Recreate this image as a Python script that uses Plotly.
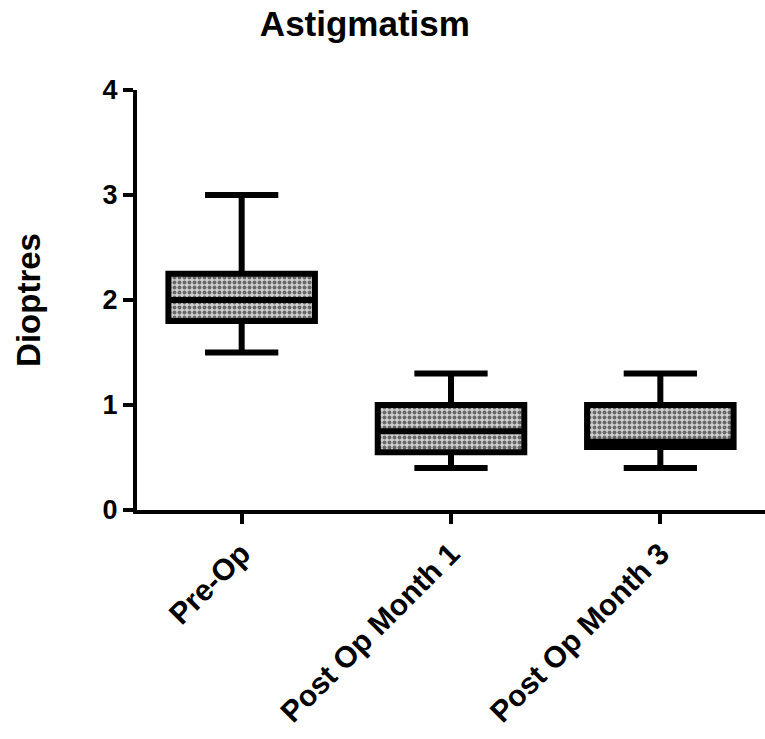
import plotly.graph_objects as go

categories = ["Pre-Op", "Post Op Month 1", "Post Op Month 3"]
lower_whisker = [1.5, 0.4, 0.4]
q1_vals = [1.8, 0.55, 0.6]
median_vals = [2.0, 0.75, 0.65]
q3_vals = [2.25, 1.0, 1.0]
upper_whisker = [3.0, 1.3, 1.3]
y_ticks = [0, 1, 2, 3, 4]

FONT = "Arial, Liberation Sans, sans-serif"

fig = go.Figure()
# checkered fill underneath the box outline
fig.add_trace(go.Bar(
    x=categories,
    y=[q3 - q1 for q1, q3 in zip(q1_vals, q3_vals)],
    base=q1_vals,
    width=0.7,
    marker=dict(color="#d0d0d0", line=dict(width=0),
                pattern=dict(shape=".", fgcolor="black", bgcolor="#d0d0d0",
                             size=5, solidity=0.5, fillmode="overlay")),
    hoverinfo="skip",
    showlegend=False,
))
fig.add_trace(go.Box(
    x=categories,
    lowerfence=lower_whisker,
    q1=q1_vals,
    median=median_vals,
    q3=q3_vals,
    upperfence=upper_whisker,
    fillcolor="rgba(0,0,0,0)",
    line=dict(color="black", width=6),
    whiskerwidth=0.5,
    width=0.7,
    showlegend=False,
))

fig.update_layout(
    width=765, height=739,
    margin=dict(l=137, r=0, t=90, b=229),
    paper_bgcolor="white", plot_bgcolor="white",
    font=dict(family=FONT, color="black"),
    title=dict(text="<b>Astigmatism</b>", x=0.477, xanchor="center", y=0.968, yanchor="middle",
               pad=dict(t=0, b=0, l=0, r=0),
               font=dict(size=35, family=FONT, color="black")),
    barmode="overlay",
    boxmode="overlay",
)
fig.update_xaxes(
    range=[-0.5, 2.5], automargin=False,
    showline=True, linecolor="black", linewidth=4,
    ticks="outside", ticklen=10, tickwidth=4, tickcolor="black",
    tickangle=-45, showgrid=False, zeroline=False,
    tickfont=dict(size=30, family=FONT, color="black", weight="bold"),
)
fig.update_yaxes(
    range=[0, 4], tickvals=y_ticks, automargin=False,
    showline=True, linecolor="black", linewidth=4,
    ticks="outside", ticklen=10, tickwidth=4, tickcolor="black",
    showgrid=False, zeroline=False,
    tickfont=dict(size=27, family=FONT, color="black", weight="bold"),
    title=dict(text="<b>Dioptres</b>", font=dict(size=33, family=FONT, color="black"), standoff=53),
)

fig.write_html(
    "out.html",
    config={"displayModeBar": False},
    post_script="document.body.style.margin='0';document.body.style.overflow='hidden';",
)
